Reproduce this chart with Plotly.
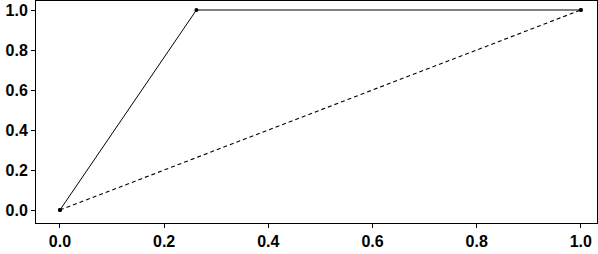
import plotly.graph_objects as go

fpr = [0.0, 0.262, 1.0]
tpr = [0.0, 1.0, 1.0]
diag_x = [0.0, 1.0]
diag_y = [0.0, 1.0]
ticks = [0.0, 0.2, 0.4, 0.6, 0.8, 1.0]
tick_labels = ["0.0", "0.2", "0.4", "0.6", "0.8", "1.0"]

fig = go.Figure()
fig.add_trace(go.Scatter(x=diag_x, y=diag_y, mode="lines+markers",
                         line=dict(color="black", width=1.1, dash="4px,3px"),
                         marker=dict(color="black", size=4), showlegend=False))
fig.add_trace(go.Scatter(x=fpr, y=tpr, mode="lines+markers",
                         line=dict(color="black", width=1),
                         marker=dict(color="black", size=4), showlegend=False))

axis_common = dict(showline=True, linecolor="black", linewidth=1, mirror=True,
                   showgrid=False, zeroline=False, ticks="outside", ticklen=4,
                   tickcolor="black", tickvals=ticks,
                   ticktext=["<b>%s</b>" % t for t in tick_labels],
                   automargin=False,
                   tickfont=dict(family="Liberation Sans", size=16, color="black"))

fig.update_layout(
    width=598, height=254,
    margin=dict(l=36, r=1, t=1, b=31),
    plot_bgcolor="white", paper_bgcolor="white",
    xaxis=dict(range=[-0.046, 1.031], **axis_common),
    yaxis=dict(range=[-0.065, 1.045], **axis_common),
)
fig.write_html("out.html", config={"displayModeBar": False},
               post_script="document.body.style.margin='0';document.body.style.overflow='hidden';")
